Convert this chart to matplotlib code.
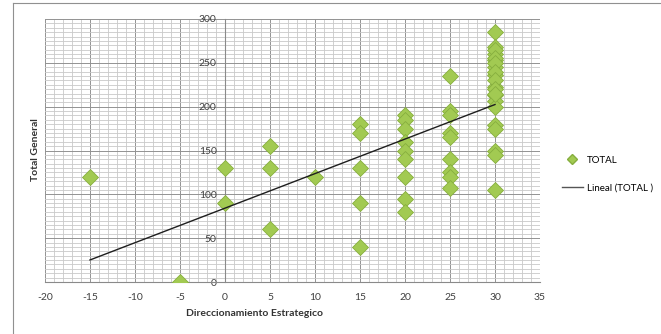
import numpy as np
import matplotlib.pyplot as plt
from matplotlib.ticker import MultipleLocator
from matplotlib.lines import Line2D

plt.rcParams['font.family'] = ['Lato', 'DejaVu Sans']
plt.rcParams['axes.unicode_minus'] = False

# Direccionamiento Estrategico vs Total General
x_vals = [-15, -5, 0, 0, 5, 5, 5, 10,
          15, 15, 15, 15, 15,
          20, 20, 20, 20, 20, 20, 20, 20, 20,
          25, 25, 25, 25, 25, 25, 25, 25, 25,
          30, 30, 30, 30, 30, 30, 30, 30, 30, 30, 30, 30, 30, 30, 30,
          30, 30, 30, 30, 30, 30, 30]
totals = [120, 0, 130, 90, 155, 130, 60, 120,
          180, 170, 130, 90, 40,
          190, 185, 175, 160, 150, 140, 120, 95, 80,
          235, 195, 190, 170, 165, 140, 125, 120, 107,
          285, 268, 260, 253, 245, 236, 223, 213, 207, 200, 179, 175, 150, 145, 105,
          265, 255, 250, 240, 230, 220, 215]

x = np.array(x_vals, dtype=float)
y = np.array(totals, dtype=float)
slope, icpt = np.polyfit(x, y, 1)
xfit = np.array([x.min(), x.max()])
yfit = slope * xfit + icpt

fig = plt.figure(figsize=(6.61, 3.34), dpi=100)
ax = fig.add_axes([45/661, 1 - 282/334, 495/661, 263/334])

ax.set_xlim(-20, 35)
ax.set_ylim(0, 300)
ax.xaxis.set_major_locator(MultipleLocator(5))
ax.xaxis.set_minor_locator(MultipleLocator(1))
ax.yaxis.set_major_locator(MultipleLocator(50))
ax.yaxis.set_minor_locator(MultipleLocator(5))
ax.grid(which='minor', color='#c9c9c9', lw=0.6)
ax.grid(which='major', color='#929292', lw=0.7)
ax.set_axisbelow(True)

for s in ['top', 'right']:
    ax.spines[s].set_visible(False)
ax.spines['left'].set_position(('data', 0))
ax.spines['left'].set_color('#8a8a8a')
ax.spines['bottom'].set_color('#8a8a8a')
ax.spines['left'].set_linewidth(0.8)
ax.spines['bottom'].set_linewidth(0.8)
ax.tick_params(which='both', length=0, labelsize=7.5, colors='#404040')
ax.tick_params(axis='x', pad=8)
ax.tick_params(axis='y', pad=6)

ax.plot(x, y, ls='none', marker='D', ms=8.5, mfc='#a2ca52', mec='#86ae3e',
        mew=0.6, label='TOTAL', zorder=3)
ax.plot(xfit, yfit, color='#1e1e1e', lw=1.0, label='Lineal (TOTAL )', zorder=4)

fig.text(255/661, 1 - 313/334, 'Direccionamiento Estrategico', ha='center',
         va='center', fontsize=7.5, fontweight='bold', color='#333333')
fig.text(35/661, 1 - 150/334, 'Total General', ha='center', va='center',
         rotation=90, fontsize=7.5, fontweight='bold', color='#333333')

handles = [Line2D([], [], ls='none', marker='D', ms=5, mfc='#a2ca52', mec='#86ae3e'),
           Line2D([], [], color='#555555', lw=1.0)]
fig.legend(handles, ['TOTAL', 'Lineal (TOTAL )'], loc='center left',
           bbox_to_anchor=(553/661, 1 - 174/334), frameon=False, fontsize=7,
           handlelength=2.2, labelspacing=1.9, handletextpad=0.4)

# outer chart frame
fig.add_artist(Line2D([13/661, 13/661], [0, 1 - 3/334], color='#909090', lw=0.8))
fig.add_artist(Line2D([13/661, 1], [1 - 3/334, 1 - 3/334], color='#909090', lw=0.8))

fig.savefig('out.png', dpi=100)
